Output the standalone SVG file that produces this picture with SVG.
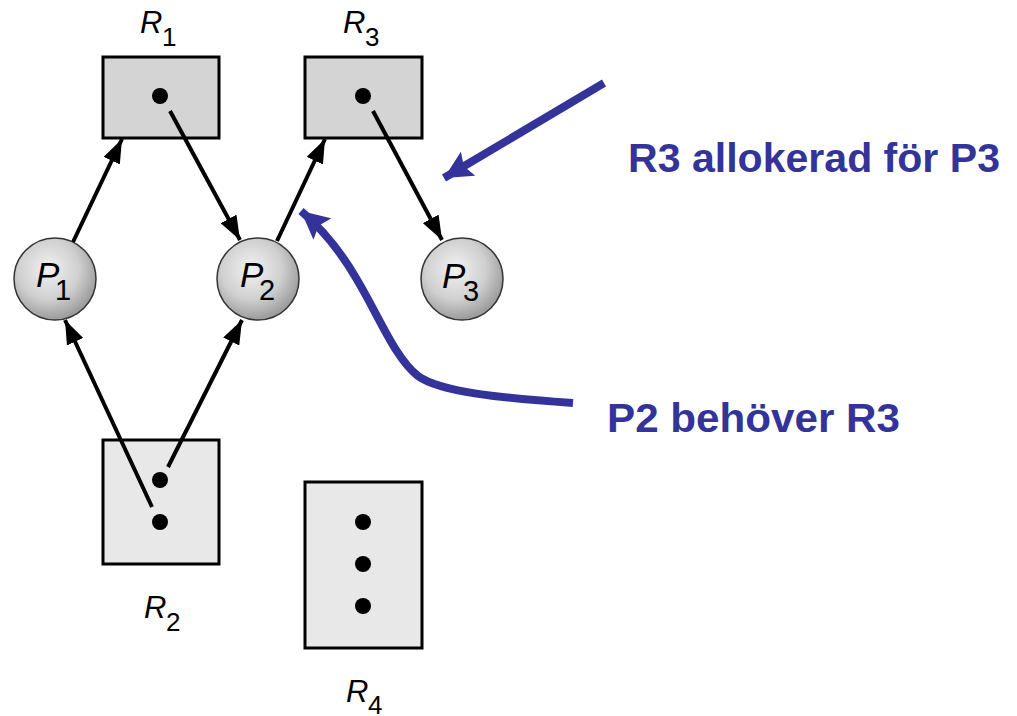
<svg xmlns="http://www.w3.org/2000/svg" width="1017" height="716" viewBox="0 0 1017 716">
<style>
.res{stroke:#000;stroke-width:3}
.r1{fill:#d4d4d4}
.r2{fill:#e8e8e8}
.dot{fill:#000}
.proc{fill:url(#sph);stroke:#333;stroke-width:1.5}
.lbl{font-family:"Liberation Sans",Arial,sans-serif;font-style:italic;fill:#000}
.rl{font-size:31px}
.pl{font-size:35px}
.sub{font-family:"Liberation Sans",Arial,sans-serif;fill:#000}
.rs{font-size:26px}
.ps{font-size:29px}
.edge{stroke:#000;stroke-width:4;fill:none;marker-end:url(#ah)}
.note{stroke:#333399;stroke-width:8;fill:none;marker-end:url(#bh)}
.ntext{font-family:"Liberation Sans",Arial,sans-serif;font-weight:bold;font-size:40px;fill:#333399}
</style>
<defs>
<radialGradient id="sph" cx="0.42" cy="0.38" r="0.62">
<stop offset="0" stop-color="#f2f2f2"/>
<stop offset="0.6" stop-color="#cfcfcf"/>
<stop offset="1" stop-color="#9c9c9c"/>
</radialGradient>
<marker id="ah" markerUnits="userSpaceOnUse" viewBox="0 0 24 18" refX="24" refY="9" markerWidth="24" markerHeight="18" orient="auto">
<path d="M0,0 L24,9 L0,18 Z" fill="#000"/>
</marker>
<marker id="bh" markerUnits="userSpaceOnUse" viewBox="0 0 28 28" refX="28" refY="14" markerWidth="28" markerHeight="28" orient="auto">
<path d="M0,0 L28,14 L0,28 L5,14 Z" fill="#333399"/>
</marker>
</defs>

<g id="R1">
<rect class="res r1" x="103" y="57" width="116" height="81"/>
<circle class="dot" cx="160" cy="96" r="8"/>
<text class="lbl rl" x="140" y="33">R</text>
<text class="sub rs" x="162" y="46">1</text>
</g>
<g id="R3">
<rect class="res r1" x="305" y="57" width="117" height="81"/>
<circle class="dot" cx="363" cy="96" r="8"/>
<text class="lbl rl" x="343" y="33">R</text>
<text class="sub rs" x="365" y="46">3</text>
</g>
<g id="R2">
<rect class="res r2" x="103" y="440" width="116" height="124"/>
<circle class="dot" cx="160" cy="480" r="8"/>
<circle class="dot" cx="160" cy="522" r="8"/>
<text class="lbl rl" x="144" y="618">R</text>
<text class="sub rs" x="166" y="631">2</text>
</g>
<g id="R4">
<rect class="res r2" x="305" y="482" width="117" height="166"/>
<circle class="dot" cx="363" cy="522" r="8"/>
<circle class="dot" cx="363" cy="564" r="8"/>
<circle class="dot" cx="363" cy="606" r="8"/>
<text class="lbl rl" x="346" y="702">R</text>
<text class="sub rs" x="368" y="714">4</text>
</g>

<g id="P1">
<circle class="proc" cx="55" cy="279" r="41"/>
<text class="lbl pl" x="36" y="287">P</text>
<text class="sub ps" x="55" y="300">1</text>
</g>
<g id="P2">
<circle class="proc" cx="258" cy="279" r="41"/>
<text class="lbl pl" x="240" y="287">P</text>
<text class="sub ps" x="259" y="300">2</text>
</g>
<g id="P3">
<circle class="proc" cx="462" cy="279" r="41"/>
<text class="lbl pl" x="442" y="288">P</text>
<text class="sub ps" x="463" y="301">3</text>
</g>

<g id="connectors">
<line class="edge" x1="73" y1="242" x2="122" y2="139"/>
<line class="edge" x1="170" y1="111" x2="240" y2="240"/>
<line class="edge" x1="277" y1="241" x2="325" y2="139"/>
<line class="edge" x1="373" y1="111" x2="442" y2="240"/>
<line class="edge" x1="152" y1="507" x2="65" y2="320"/>
<line class="edge" x1="168" y1="467" x2="242" y2="320"/>
</g>

<g id="annotations">
<line class="note" x1="604" y1="83" x2="444" y2="178"/>
<path class="note" d="M573,403 C500,398 440,392 418,376 C395,358 380,318 356,278 C342,254 326,232 301,211"/>
<text class="ntext" x="628" y="172" textLength="372" lengthAdjust="spacingAndGlyphs">R3 allokerad för P3</text>
<text class="ntext" x="607" y="432" textLength="293" lengthAdjust="spacingAndGlyphs">P2 behöver R3</text>
</g>
</svg>
